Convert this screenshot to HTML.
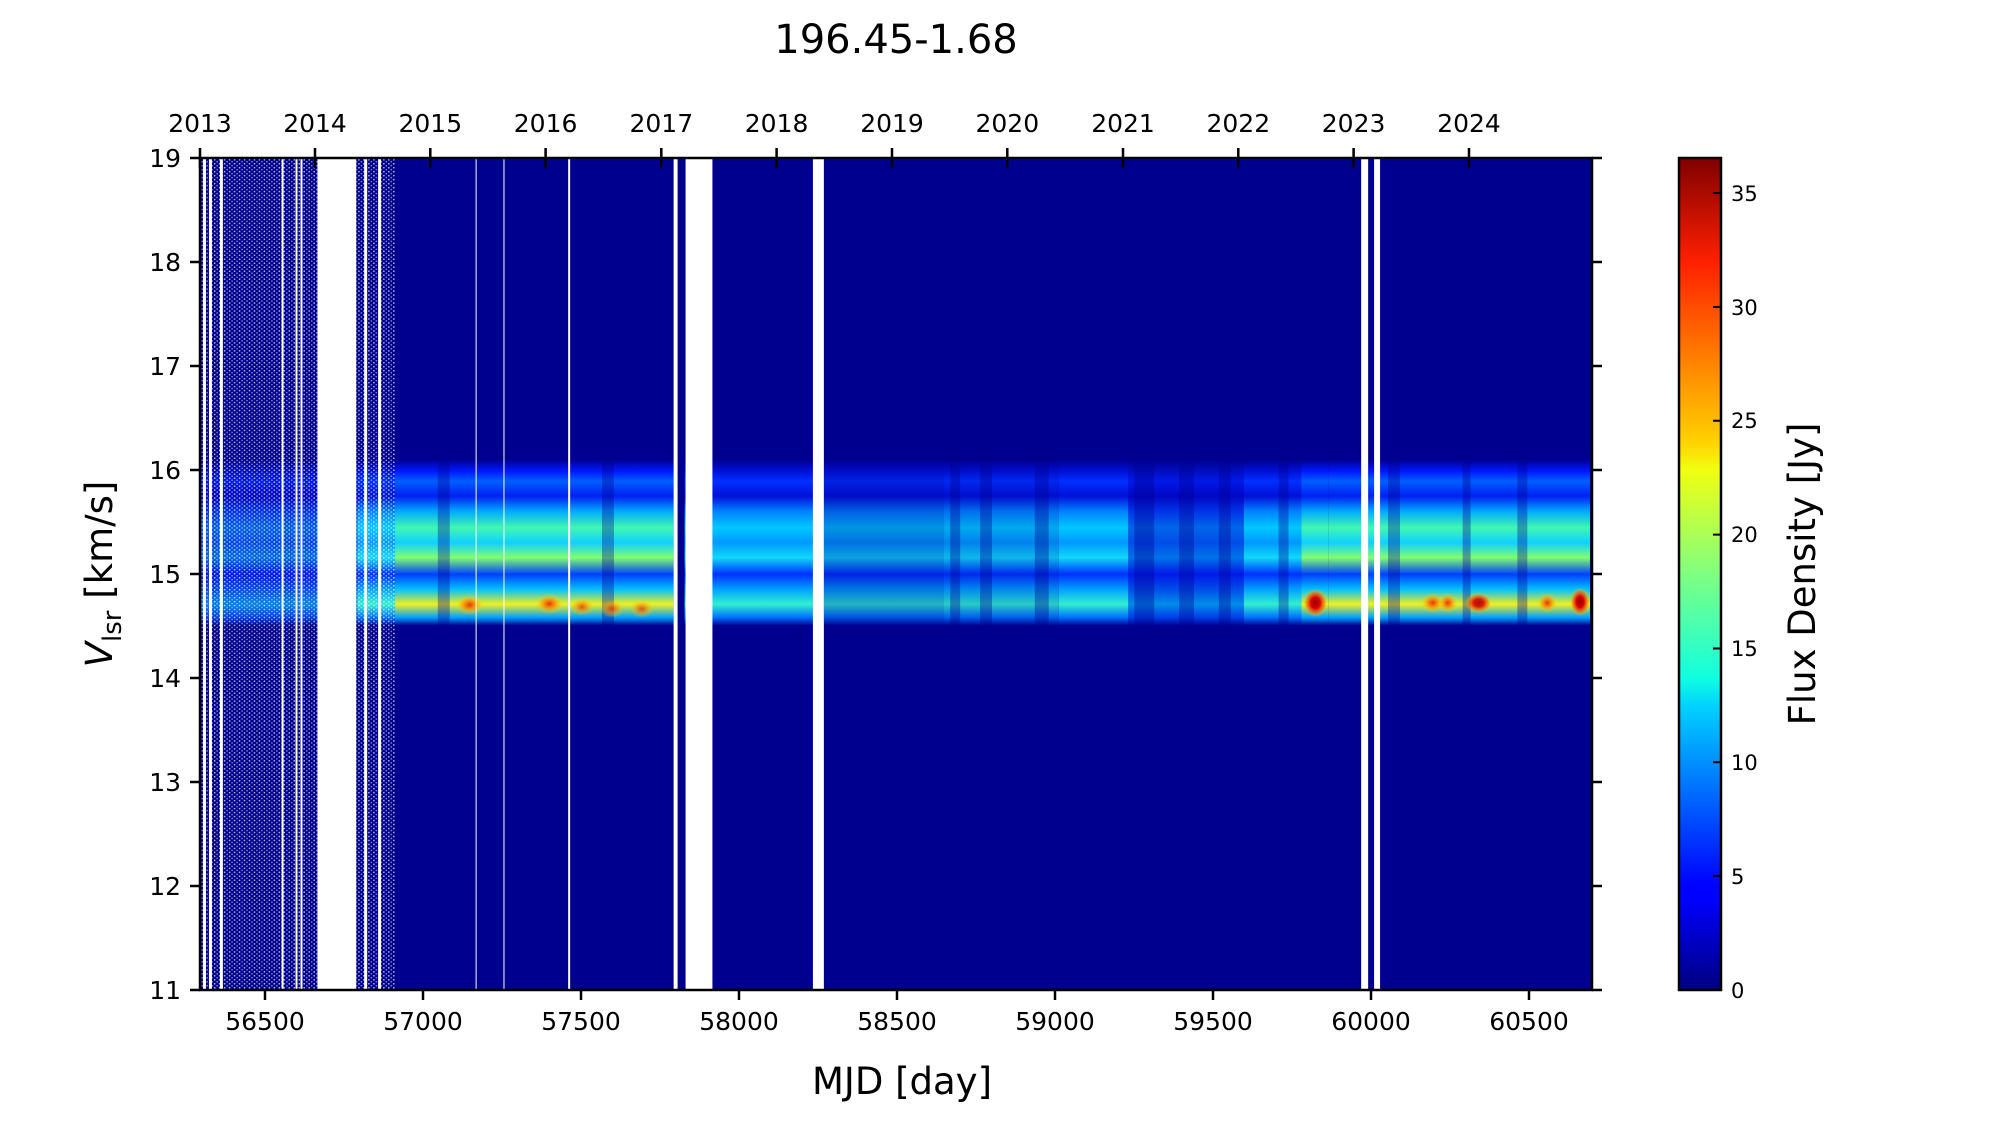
<!DOCTYPE html>
<html><head><meta charset="utf-8"><style>
html,body{margin:0;padding:0;background:#fff;}
svg text{font-family:"DejaVu Sans","Liberation Sans",sans-serif;fill:#000;}
</style></head><body>
<svg width="2000" height="1125" viewBox="0 0 2000 1125" xmlns="http://www.w3.org/2000/svg">
<defs>
<linearGradient id="S" x1="0" y1="462" x2="0" y2="629" gradientUnits="userSpaceOnUse">
<stop offset="0" stop-color="#00008f"/>
<stop offset="0.07" stop-color="#0018ff"/>
<stop offset="0.13" stop-color="#0060ff"/>
<stop offset="0.22" stop-color="#0020f0"/>
<stop offset="0.31" stop-color="#00a8ff"/>
<stop offset="0.41" stop-color="#40f8b0"/>
<stop offset="0.50" stop-color="#10d0ff"/>
<stop offset="0.59" stop-color="#80ff70"/>
<stop offset="0.69" stop-color="#0040ff"/>
<stop offset="0.78" stop-color="#00c0ff"/>
<stop offset="0.87" stop-color="#f0f020"/>
<stop offset="0.95" stop-color="#00a0ff"/>
<stop offset="1" stop-color="#00008f"/>
</linearGradient>
<linearGradient id="M" x1="0" y1="462" x2="0" y2="629" gradientUnits="userSpaceOnUse">
<stop offset="0" stop-color="#00008f"/>
<stop offset="0.07" stop-color="#0010d8"/>
<stop offset="0.13" stop-color="#0030ff"/>
<stop offset="0.22" stop-color="#0010d8"/>
<stop offset="0.31" stop-color="#0080ff"/>
<stop offset="0.41" stop-color="#00c8ff"/>
<stop offset="0.50" stop-color="#0098ff"/>
<stop offset="0.59" stop-color="#10d8f8"/>
<stop offset="0.69" stop-color="#0030ff"/>
<stop offset="0.78" stop-color="#00a0ff"/>
<stop offset="0.87" stop-color="#30f0d0"/>
<stop offset="0.95" stop-color="#0070ff"/>
<stop offset="1" stop-color="#00008f"/>
</linearGradient>
<linearGradient id="W" x1="0" y1="462" x2="0" y2="629" gradientUnits="userSpaceOnUse">
<stop offset="0" stop-color="#00008f"/>
<stop offset="0.13" stop-color="#0020ff"/>
<stop offset="0.22" stop-color="#0008d0"/>
<stop offset="0.31" stop-color="#0040ff"/>
<stop offset="0.41" stop-color="#0080ff"/>
<stop offset="0.50" stop-color="#0060ff"/>
<stop offset="0.59" stop-color="#0090ff"/>
<stop offset="0.69" stop-color="#0020ff"/>
<stop offset="0.78" stop-color="#0060ff"/>
<stop offset="0.87" stop-color="#00b0ff"/>
<stop offset="0.95" stop-color="#0050ff"/>
<stop offset="1" stop-color="#00008f"/>
</linearGradient>
<radialGradient id="H"><stop offset="0" stop-color="#e83000"/><stop offset="0.5" stop-color="#ff9000" stop-opacity="0.7"/><stop offset="1" stop-color="#ffe000" stop-opacity="0"/></radialGradient>
<radialGradient id="HD"><stop offset="0" stop-color="#900000"/><stop offset="0.4" stop-color="#e00000"/><stop offset="0.8" stop-color="#ff8000" stop-opacity="0.6"/><stop offset="1" stop-color="#ffe000" stop-opacity="0"/></radialGradient>
<pattern id="dots" x="0" y="0" width="5" height="4" patternUnits="userSpaceOnUse">
<rect width="5" height="4" fill="none"/>
<rect x="0" y="0" width="1.5" height="1.5" fill="#fff" opacity="0.7"/>
<rect x="2.5" y="2" width="1.5" height="1.5" fill="#fff" opacity="0.5"/>
</pattern>
<linearGradient id="CB" x1="0" y1="990" x2="0" y2="158" gradientUnits="userSpaceOnUse">
<stop offset="0" stop-color="#000080"/><stop offset="0.11" stop-color="#0000ff"/>
<stop offset="0.125" stop-color="#0000ff"/><stop offset="0.34" stop-color="#00d0ff"/>
<stop offset="0.375" stop-color="#10ffe0"/><stop offset="0.5" stop-color="#80ff80"/>
<stop offset="0.625" stop-color="#f0ff10"/><stop offset="0.66" stop-color="#ffd000"/>
<stop offset="0.875" stop-color="#ff2000"/><stop offset="1" stop-color="#800000"/>
</linearGradient>
</defs>

<g transform="translate(200,158) scale(0.995,0.9952) translate(-201,-159)">
<rect x="201" y="159" width="1399" height="836" fill="#00008f"/>
<rect x="201" y="462" width="158" height="167" fill="url(#W)" opacity="0.75"/>
<rect x="359" y="462" width="38" height="167" fill="url(#M)"/>
<rect x="397" y="462" width="280" height="167" fill="url(#S)"/>
<rect x="688" y="462" width="132" height="167" fill="url(#M)"/>
<rect x="828" y="462" width="120" height="167" fill="url(#M)" opacity="0.75"/>
<rect x="948" y="462" width="116" height="167" fill="url(#M)" opacity="0.85"/>
<rect x="1064" y="462" width="70" height="167" fill="url(#M)"/>
<rect x="1134" y="462" width="116" height="167" fill="url(#W)" opacity="0.8"/>
<rect x="1250" y="462" width="58" height="167" fill="url(#M)"/>
<rect x="1308" y="462" width="27" height="167" fill="url(#S)"/>
<rect x="1335" y="462" width="263" height="167" fill="url(#S)"/>
<g fill="#00008f" opacity="0.35">
<rect x="955" y="462" width="10" height="167"/><rect x="985" y="462" width="12" height="167"/>
<rect x="1040" y="462" width="14" height="167"/><rect x="1140" y="462" width="20" height="167"/>
<rect x="1185" y="462" width="15" height="167"/><rect x="1225" y="462" width="12" height="167"/>
<rect x="1285" y="462" width="10" height="167"/><rect x="1395" y="462" width="12" height="167"/>
<rect x="1470" y="462" width="8" height="167"/><rect x="1525" y="462" width="10" height="167"/>
<rect x="605" y="462" width="12" height="167"/><rect x="440" y="462" width="12" height="167"/>
</g>
<!-- dotted texture early period -->
<rect x="201" y="159" width="118" height="836" fill="url(#dots)"/>
<rect x="358" y="159" width="39" height="836" fill="url(#dots)"/>
<ellipse cx="472" cy="608" rx="14" ry="10" fill="url(#H)"/>
<ellipse cx="552" cy="607" rx="14" ry="10" fill="url(#H)"/>
<ellipse cx="585" cy="610" rx="12" ry="9" fill="url(#H)" opacity="0.8"/>
<ellipse cx="615" cy="612" rx="12" ry="9" fill="url(#H)" opacity="0.8"/>
<ellipse cx="645" cy="612" rx="12" ry="9" fill="url(#H)" opacity="0.8"/>
<ellipse cx="1322" cy="606" rx="12" ry="14" fill="url(#HD)"/>
<ellipse cx="1440" cy="606" rx="12" ry="10" fill="url(#H)"/>
<ellipse cx="1455" cy="606" rx="10" ry="10" fill="url(#H)"/>
<ellipse cx="1486" cy="606" rx="13" ry="10" fill="url(#HD)" opacity="0.9"/>
<ellipse cx="1555" cy="606" rx="10" ry="10" fill="url(#H)"/>
<ellipse cx="1588" cy="605" rx="10" ry="14" fill="url(#HD)"/>
<g fill="#fff">
<rect x="204" y="159" width="3" height="836"/><rect x="210" y="159" width="3" height="836"/>
<rect x="221" y="159" width="3" height="836"/>
<rect x="283" y="159" width="2" height="836"/><rect x="297" y="159" width="2" height="836"/>
<rect x="302" y="159" width="2" height="836"/>
<rect x="319" y="159" width="39" height="836"/>
<rect x="366" y="159" width="3" height="836"/><rect x="380" y="159" width="3" height="836"/>
<rect x="478" y="159" width="1" height="836"/><rect x="506" y="159" width="1" height="836"/>
<rect x="571" y="159" width="2" height="836"/>
<rect x="677" y="159" width="4" height="836"/><rect x="689" y="159" width="27" height="836"/>
<rect x="817" y="159" width="11" height="836"/>
<rect x="1368" y="159" width="7" height="836"/><rect x="1381" y="159" width="6" height="836"/>
</g>
</g>

<rect x="200" y="158" width="1392" height="832" fill="none" stroke="#000" stroke-width="2.5"/>
<g stroke="#000" stroke-width="2.5">
<path d="M190 990H200M190 886H200M190 782H200M190 678H200M190 574H200M190 470H200M190 366H200M190 262H200M190 158H200"/>
<path d="M1592 990H1602M1592 886H1602M1592 782H1602M1592 678H1602M1592 574H1602M1592 470H1602M1592 366H1602M1592 262H1602M1592 158H1602"/>
<path d="M265 990V1000M423 990V1000M581 990V1000M739 990V1000M897 990V1000M1055 990V1000M1213 990V1000M1371 990V1000M1529 990V1000"/>
<path d="M200 148V168M315 148V168M430.3 148V168M545.6 148V168M661.3 148V168M776.6 148V168M892 148V168M1007.3 148V168M1123 148V168M1238.3 148V168M1353.6 148V168M1469 148V168"/>
</g>
<g font-size="25" text-anchor="end">
<text x="181" y="999">11</text><text x="181" y="895">12</text><text x="181" y="791">13</text>
<text x="181" y="687">14</text><text x="181" y="583">15</text><text x="181" y="479">16</text>
<text x="181" y="375">17</text><text x="181" y="271">18</text><text x="181" y="167">19</text>
</g>
<g font-size="25" text-anchor="middle">
<text x="265" y="1030">56500</text><text x="423" y="1030">57000</text><text x="581" y="1030">57500</text>
<text x="739" y="1030">58000</text><text x="897" y="1030">58500</text><text x="1055" y="1030">59000</text>
<text x="1213" y="1030">59500</text><text x="1371" y="1030">60000</text><text x="1529" y="1030">60500</text>
<text x="200" y="132">2013</text><text x="315" y="132">2014</text><text x="430.3" y="132">2015</text>
<text x="545.6" y="132">2016</text><text x="661.3" y="132">2017</text><text x="776.6" y="132">2018</text>
<text x="892" y="132">2019</text><text x="1007.3" y="132">2020</text><text x="1123" y="132">2021</text>
<text x="1238.3" y="132">2022</text><text x="1353.6" y="132">2023</text><text x="1469" y="132">2024</text>
</g>
<text x="896" y="53" font-size="40" text-anchor="middle">196.45-1.68</text>
<text x="902" y="1094" font-size="37" text-anchor="middle">MJD [day]</text>
<text transform="translate(112,574) rotate(-90)" font-size="37" text-anchor="middle"><tspan font-style="italic">V</tspan><tspan font-size="26" dy="9">lsr</tspan><tspan dy="-9"> [km/s]</tspan></text>
<rect x="1679" y="158" width="42" height="832" fill="url(#CB)" stroke="#000" stroke-width="2.5"/>
<g stroke="#000" stroke-width="2">
<path d="M1713 990H1721M1713 876H1721M1713 762.3H1721M1713 648.5H1721M1713 534.6H1721M1713 420.8H1721M1713 307H1721M1713 193H1721"/>
</g>
<g font-size="21">
<text x="1731" y="998">0</text><text x="1731" y="884">5</text><text x="1731" y="770">10</text>
<text x="1731" y="656">15</text><text x="1731" y="542">20</text><text x="1731" y="428">25</text>
<text x="1731" y="315">30</text><text x="1731" y="201">35</text>
</g>
<text transform="translate(1815,574) rotate(-90)" font-size="37" text-anchor="middle">Flux Density [Jy]</text>
</svg>
</body></html>
